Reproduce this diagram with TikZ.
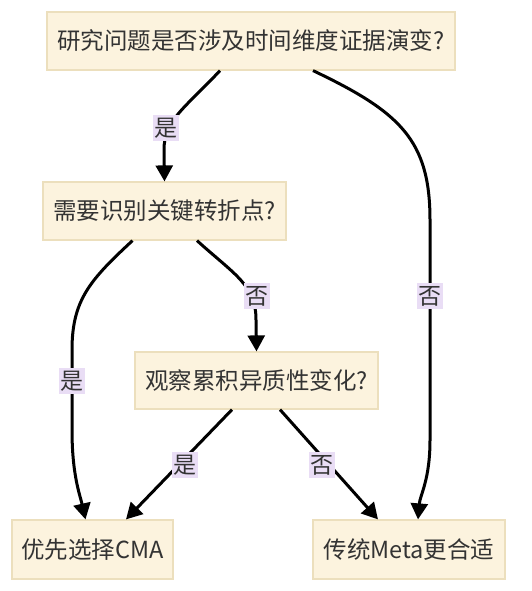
\documentclass[tikz,border=0pt]{standalone}
\usepackage{fontspec}
\setmainfont{Noto Sans CJK SC}
\usetikzlibrary{arrows.meta}
\definecolor{boxfill}{HTML}{FCF3DE}
\definecolor{boxline}{HTML}{ECDFBD}
\definecolor{lblfill}{HTML}{E9DDF5}
\definecolor{txt}{HTML}{333333}
\tikzset{
  box/.style={draw=boxline, line width=1.2pt, fill=boxfill, text=txt, inner sep=0pt,
    font=\fontsize{23.5}{28}\selectfont},
  lbl/.style={fill=lblfill, text=txt, inner xsep=1.5pt, inner ysep=3pt, font=\fontsize{23}{26}\selectfont},
  edge/.style={line width=3pt, black, -{Triangle[length=16pt,width=17pt]}}
}
\begin{document}
\begin{tikzpicture}[x=1pt,y=-1pt]
\useasboundingbox (0,0) rectangle (531,591);
\node[box, minimum width=408pt, minimum height=58pt] (A) at (251,41) {研究问题是否涉及时间维度证据演变?};
\node[box, minimum width=243pt, minimum height=58pt] (B) at (164.5,211) {需要识别关键转折点?};
\node[box, minimum width=243pt, minimum height=57pt] (C) at (256.5,380.5) {观察累积异质性变化?};
\node[box, minimum width=161pt, minimum height=59pt] (D) at (92.5,549.5) {优先选择CMA};
\node[box, minimum width=192pt, minimum height=59pt] (E) at (409,549.5) {传统Meta更合适};

\draw[edge] ([xshift=-31pt]A.south) .. controls (185,108) and (164,120) .. (164,150) -- (B.north);
\draw[edge] ([xshift=62pt]A.south) .. controls (400,112) and (430,140) .. (430,220) -- (430,440) .. controls (430,480) and (420,495) .. ([xshift=9pt]E.north);
\draw[edge] ([xshift=-32pt]B.south) .. controls (90,280) and (72,300) .. (72,350) -- (72,430) .. controls (72,475) and (80,495) .. ([xshift=-7pt]D.north);
\draw[edge] ([xshift=32.5pt]B.south) .. controls (235,275) and (256,285) .. (256,320) -- (C.north);
\draw[edge] ([xshift=-24.5pt]C.south) -- ([xshift=33.5pt]D.north);
\draw[edge] ([xshift=23.5pt]C.south) -- ([xshift=-31pt]E.north);

\node[lbl] (l1) at (166,128) {是};
\node[lbl] (l2) at (430,296) {否};
\node[lbl] (l3) at (72,381) {是};
\node[lbl] (l4) at (257,296) {否};
\node[lbl] (l5) at (185,465) {是};
\node[lbl] (l6) at (322,465) {否};
\end{tikzpicture}
\end{document}
